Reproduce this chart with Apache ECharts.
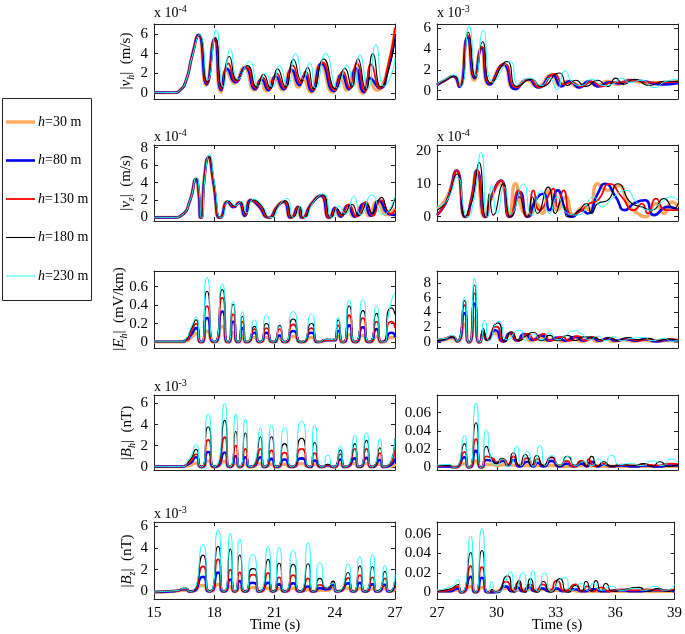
<!DOCTYPE html>
<html><head><meta charset="utf-8">
<script src="https://cdn.jsdelivr.net/npm/echarts@6/dist/echarts.min.js"></script>
<style>html,body{margin:0;padding:0;background:#fff}#c{width:685px;height:634px}</style>
</head><body><div id="c"></div>
<script>
// ---------- legend / series names ----------
const seriesNames = ['h=30 m','h=80 m','h=130 m','h=180 m','h=230 m'];
const xTicksLeft = [15,18,21,24,27];
const xTicksRight = [27,30,33,36,39];

// ---------- |v_h| left (x1e-4 m/s) ----------
const vhL30 = [[15,0.05],[16,0.06],[16.3,0.3],[16.6,1.3],[16.9,3.8],[17.2,5.8],[17.6,0.8],[18.0,5.4],[18.33,0.1],[18.6,2.3],[19.0,1.0],[19.5,2.6],[20.0,0.3],[20.3,1.3],[20.6,0.2],[21.0,1.6],[21.4,0.3],[21.8,2.3],[22.2,0.6],[22.4,1.6],[22.8,0.1],[23.3,2.9],[23.9,0.1],[24.3,1.8],[24.6,0.3],[25.0,2.3],[25.4,0.0],[25.7,1.6],[26.1,0.3],[26.3,0.5],[26.65,2.6],[27,6.5]];
const vhL80 = [[15,0.05],[16,0.06],[16.3,0.3],[16.6,1.3],[16.9,3.8],[17.22,5.9],[17.62,0.9],[18.02,5.5],[18.35,0.3],[18.65,2.45],[19.05,1.1],[19.55,2.6],[20.05,0.4],[20.35,1.4],[20.7,0.3],[21.05,1.7],[21.45,0.4],[21.85,2.35],[22.25,0.8],[22.5,1.8],[22.85,0.2],[23.35,3.0],[23.95,0.2],[24.35,1.9],[24.7,0.4],[25.05,2.5],[25.45,0.1],[25.75,1.5],[26.25,0.5],[26.65,2.4],[27,6.0]];
const vhL130 = [[15,0.05],[16,0.06],[16.3,0.3],[16.6,1.3],[16.9,3.8],[17.24,5.9],[17.64,1.0],[18.04,5.6],[18.37,0.4],[18.7,3.0],[19.1,1.2],[19.6,2.6],[20.08,0.5],[20.4,1.6],[20.75,0.4],[21.1,2.0],[21.5,0.5],[21.9,2.8],[22.3,1.0],[22.55,2.2],[22.9,0.3],[23.4,3.1],[24.0,0.3],[24.4,2.2],[24.75,0.5],[25.1,3.0],[25.5,0.2],[25.8,2.9],[26.25,0.5],[26.65,2.8],[27,6.6]];
const vhL180 = [[15,0.05],[16,0.06],[16.3,0.3],[16.6,1.3],[16.9,3.8],[17.26,5.9],[17.66,1.1],[18.06,5.6],[18.4,0.5],[18.75,3.7],[19.15,1.3],[19.65,2.8],[20.12,0.6],[20.45,1.9],[20.8,0.5],[21.15,2.45],[21.55,0.6],[21.95,3.4],[22.35,1.2],[22.65,2.6],[22.95,0.4],[23.45,3.45],[24.05,0.4],[24.5,2.5],[24.85,0.6],[25.15,3.5],[25.55,0.3],[25.9,4.0],[26.3,0.6],[26.7,2.5],[27,5.5]];
const vhL230 = [[15,0.05],[16,0.06],[16.3,0.3],[16.6,1.3],[16.9,3.7],[17.28,5.9],[17.68,1.3],[18.1,6.4],[18.45,0.6],[18.8,4.4],[19.2,1.4],[19.75,3.2],[20.2,0.7],[20.55,2.0],[20.9,0.6],[21.25,2.8],[21.65,0.7],[22.05,4.0],[22.45,1.4],[22.75,3.1],[23.05,0.5],[23.55,4.0],[24.15,0.5],[24.6,2.8],[24.95,0.7],[25.25,3.9],[25.65,0.4],[26.05,4.9],[26.45,0.7],[26.75,1.5],[27,3.5]];

// ---------- |v_h| right (x1e-3 m/s) ----------
const vhR30 = [[27,0.6],[27.4,1.0],[27.8,1.4],[28.1,0.4],[28.5,5.0],[28.85,1.0],[29.2,4.0],[29.6,0.6],[30.3,2.5],[30.85,0.2],[31.5,1.0],[32.0,0.4],[32.7,1.5],[33.1,0.5],[33.5,0.9],[34.0,0.4],[34.5,0.8],[35.0,0.5],[35.5,0.9],[36.0,0.6],[36.5,1.0],[37.2,0.8],[38.0,0.7],[39,0.8]];
const vhR80 = [[27,0.55],[27.4,1.0],[27.82,1.4],[28.12,0.35],[28.52,5.1],[28.87,1.2],[29.22,4.1],[29.63,0.6],[30.32,2.5],[30.9,0.15],[31.55,1.1],[32.05,0.3],[32.75,1.5],[33.2,0.4],[33.6,0.9],[34.1,0.3],[34.55,0.9],[35.05,0.4],[35.55,0.8],[36.1,0.7],[36.6,1.0],[37.3,0.9],[38.1,0.6],[39,0.75]];
const vhR130 = [[27,0.6],[27.4,1.0],[27.84,1.4],[28.14,0.4],[28.54,5.3],[28.89,1.3],[29.24,4.2],[29.66,0.7],[30.36,2.6],[30.95,0.3],[31.6,1.1],[32.1,0.3],[32.85,1.6],[33.3,0.6],[33.7,0.8],[34.2,0.4],[34.7,0.9],[35.2,0.4],[35.7,0.8],[36.2,0.8],[36.7,1.0],[37.4,0.8],[38.2,0.8],[39,0.9]];
const vhR180 = [[27,0.65],[27.4,1.0],[27.86,1.4],[28.16,0.4],[28.56,5.6],[28.92,1.3],[29.27,4.7],[29.7,0.7],[30.48,2.8],[31.0,0.4],[31.7,1.1],[32.2,0.4],[33.1,1.7],[33.5,0.5],[33.9,1.0],[34.4,0.4],[35.0,1.0],[35.5,0.4],[35.9,1.2],[36.3,0.6],[36.8,1.1],[37.6,0.5],[38.3,0.9],[39,0.9]];
const vhR230 = [[27,0.6],[27.4,1.1],[27.88,1.5],[28.18,0.35],[28.6,6.2],[28.95,1.4],[29.3,5.8],[29.8,0.8],[30.64,2.8],[31.05,0.6],[31.6,1.2],[32.2,0.5],[32.6,1.2],[32.97,0.1],[33.37,1.9],[33.8,0.7],[34.2,0.5],[34.7,1.1],[35.3,0.5],[35.7,0.6],[36.2,1.2],[36.6,0.8],[37.2,1.0],[37.8,0.3],[38.4,0.9],[39,1.1]];

// ---------- |v_z| left (x1e-4 m/s) ----------
const vzL30 = [[15,0.02],[16,0.02],[16.4,0.3],[16.8,2.0],[17.08,4.4],[17.22,2.8],[17.33,0],[17.5,4.5],[17.7,6.8],[17.95,4.0],[18.25,0],[18.65,1.8],[18.95,1.2],[19.22,1.7],[19.5,0.2],[19.8,2.0],[20.2,1.3],[20.7,0],[21.1,1.2],[21.45,1.8],[21.8,0],[22.15,1.2],[22.35,0],[22.8,1.5],[23.3,2.5],[23.7,0],[24.0,1.0],[24.25,0.1],[24.6,1.3],[24.95,0.1],[25.4,1.5],[25.7,0.2],[26.1,1.8],[26.6,0.3],[27,1.0]];
const vzL80 = [[15,0.02],[16,0.02],[16.4,0.3],[16.8,2.0],[17.09,4.4],[17.23,2.8],[17.34,0],[17.51,4.5],[17.71,6.9],[17.96,4.0],[18.27,0],[18.67,1.8],[18.97,1.2],[19.24,1.7],[19.52,0.2],[19.83,2.0],[20.22,1.3],[20.72,0],[21.12,1.2],[21.47,1.8],[21.82,0],[22.17,1.2],[22.37,0],[22.82,1.5],[23.32,2.5],[23.72,0],[24.02,1.1],[24.3,0.1],[24.65,1.4],[25.0,0.1],[25.45,1.6],[25.8,0.2],[26.2,1.9],[26.7,0.4],[27,0.3]];
const vzL130 = [[15,0.02],[16,0.02],[16.4,0.3],[16.8,2.0],[17.1,4.4],[17.24,2.8],[17.35,0],[17.52,4.6],[17.72,6.9],[17.97,4.0],[18.29,0],[18.7,1.85],[19.0,1.25],[19.27,1.75],[19.55,0.3],[19.86,2.0],[20.25,1.4],[20.75,0],[21.15,1.3],[21.5,1.85],[21.85,0],[22.2,1.2],[22.4,0],[22.85,1.6],[23.35,2.55],[23.75,0],[24.05,1.1],[24.35,0.2],[24.7,1.5],[25.1,0.1],[25.55,1.8],[25.9,0.2],[26.3,2.0],[26.8,0.4],[27,0.9]];
const vzL180 = [[15,0.02],[16,0.02],[16.4,0.3],[16.8,2.0],[17.11,4.4],[17.25,2.8],[17.36,0],[17.53,4.7],[17.74,7.0],[17.99,4.0],[18.31,0],[18.73,1.9],[19.03,1.3],[19.3,1.8],[19.58,0.4],[19.9,2.05],[20.3,1.5],[20.8,0],[21.2,1.4],[21.55,1.9],[21.9,0],[22.25,1.25],[22.45,0],[22.9,1.7],[23.4,2.6],[23.8,0],[24.1,1.0],[24.4,0.3],[24.85,1.5],[25.2,0.2],[25.6,1.5],[25.85,0.5],[26.33,2.3],[26.66,0.7],[27,2.3]];
const vzL230 = [[15,0.02],[16,0.02],[16.4,0.3],[16.8,2.0],[17.12,4.6],[17.26,2.8],[17.37,0],[17.55,4.8],[17.76,7.2],[18.01,4.0],[18.33,0],[18.76,1.95],[19.06,1.35],[19.33,1.85],[19.62,0.5],[19.95,2.1],[20.35,1.5],[20.85,0],[21.3,1.6],[21.62,2.2],[21.95,0],[22.3,1.3],[22.5,0],[22.95,1.8],[23.45,2.7],[23.85,0],[24.2,1.3],[24.55,0.4],[24.95,2.4],[25.3,0.3],[25.85,2.6],[26.4,0.3],[27,2.4]];

// ---------- |v_z| right (x1e-4 m/s) ----------
const vzR30 = [[27,2.5],[27.5,6],[27.97,14],[28.4,0],[28.7,5],[28.97,14],[29.35,0],[29.6,4],[30.15,10],[30.6,0.5],[30.9,10],[31.35,1],[31.65,0.5],[31.95,4],[32.25,1],[32.6,8],[33.0,2],[33.4,6],[33.8,0.5],[34.3,3],[34.6,2],[35.0,10],[35.5,8],[36.0,9.5],[36.6,3],[37.0,1],[37.4,0],[37.9,4],[38.3,1],[38.7,4.5],[39,3]];
const vzR80 = [[27,0.5],[27.5,5],[27.98,14],[28.4,0],[28.7,5],[29.0,14],[29.4,0],[29.7,6],[30.19,11],[30.6,0],[31.13,7.5],[31.5,0],[31.9,5],[32.3,7],[32.6,2],[33.0,8],[33.4,2],[33.7,0],[34.2,2],[34.5,1],[35.0,7],[35.37,10],[35.9,6],[36.36,2],[36.8,4],[37.36,5],[37.8,0.5],[38.5,3],[39,2]];
const vzR130 = [[27,0.5],[27.5,5],[27.98,14],[28.4,0],[28.7,5],[29.0,14],[29.4,0],[29.7,6],[30.19,11],[30.6,0],[31.05,8],[31.5,0],[31.8,8],[32.1,2],[32.8,8.5],[33.0,3],[33.3,8],[33.7,0.5],[34.2,2],[34.6,4],[35.0,5],[35.6,10],[36.2,6],[36.8,2],[37.2,4],[37.5,1],[37.9,5.5],[38.4,2],[39,2]];
const vzR180 = [[27,2],[27.5,5],[28.0,13],[28.4,0],[28.56,2],[28.8,6],[29.1,16.5],[29.45,0],[29.6,7],[29.8,0.5],[30.3,10],[30.65,0],[31.1,6],[31.5,0],[31.75,6],[32.0,1],[32.54,9],[32.9,1],[33.2,5],[33.5,0],[34.0,1.5],[34.45,4],[34.7,1],[35.0,4],[35.5,5],[36.0,10],[36.7,4],[37.2,3],[37.7,2],[38.3,5.5],[38.8,2.5],[39,4]];
const vzR230 = [[27,3],[27.5,5],[28.0,12],[28.35,2],[28.5,0],[28.8,4],[29.2,19.5],[29.5,0],[29.72,9.5],[30.0,1],[30.35,9],[30.7,1],[31.3,10],[31.7,0.5],[32.2,8],[32.6,1],[33.0,6],[33.5,1],[34.0,0.5],[34.8,6],[35.2,3],[35.8,6],[36.4,8],[37.0,4],[37.6,2],[38.1,4],[38.7,6],[39,5]];

// ---------- |E_h| left (mV/km), shared times ----------
const ehL_t   = [15,16.3,16.6,16.85,17.1,17.36,17.64,18.0,18.4,18.69,18.94,19.19,19.4,19.6,20.0,20.27,20.6,20.93,21.26,21.5,21.93,22.34,22.84,23.17,23.6,24.0,24.17,24.42,24.72,25.0,25.4,25.7,26.08,26.33,26.83,27];
const ehL30  = [0.002,0.002,0.01,0.05,0.09,0,0.12,0,0.17,0,0.10,0,0.07,0,0.05,0,0.05,0,0.04,0,0.06,0,0.05,0,0.02,0.02,0.06,0,0.08,0,0.07,0,0.06,0,0.05,0.04];
const ehL80  = [0.002,0.002,0.02,0.08,0.15,0,0.26,0,0.33,0,0.22,0,0.15,0,0.10,0,0.10,0,0.07,0,0.12,0,0.10,0,0.02,0.02,0.12,0,0.18,0,0.16,0,0.14,0,0.10,0.05];
const ehL130 = [0.002,0.002,0.02,0.11,0.20,0,0.39,0,0.48,0,0.30,0,0.22,0,0.14,0,0.15,0,0.14,0,0.19,0,0.15,0,0.02,0.02,0.18,0,0.29,0,0.26,0,0.22,0,0.22,0.15];
const ehL180 = [0.002,0.002,0.03,0.14,0.24,0,0.55,0,0.57,0,0.41,0,0.28,0,0.17,0,0.20,0,0.18,0,0.25,0,0.20,0,0.03,0.02,0.24,0,0.39,0,0.34,0,0.31,0,0.37,0.30];
const ehL230 = [0.002,0.002,0.04,0.16,0.27,0,0.70,0,0.63,0,0.44,0,0.33,0,0.24,0,0.29,0,0.17,0,0.33,0,0.30,0,0.03,0.02,0.27,0,0.45,0,0.46,0,0.39,0,0.45,0.53];

// ---------- |E_h| right (mV/km) ----------
const ehR30 = [[27,0.2],[27.4,0.3],[27.75,0.5],[28.0,0.1],[28.37,2.4],[28.6,0],[28.87,3.2],[29.1,0],[29.3,1.1],[29.5,0.3],[29.85,1.2],[30.3,0.1],[30.6,1.0],[31.0,0.2],[31.3,0.9],[31.7,0.2],[32.1,0.7],[32.5,0.2],[32.9,0.5],[33.3,0.1],[33.8,0.6],[34.2,0.1],[34.6,0.5],[35.0,0.1],[35.4,0.4],[35.8,0.1],[36.3,0.3],[36.8,0.1],[37.3,0.3],[37.8,0.1],[38.4,0.2],[39,0.1]];
const ehR80 = [[27,0.2],[27.4,0.4],[27.75,0.7],[28.0,0.1],[28.37,3.9],[28.6,0],[28.87,5.2],[29.1,0],[29.3,1.3],[29.5,0.3],[29.9,1.6],[30.3,0.1],[30.65,1.2],[31.0,0.2],[31.35,1.1],[31.8,0.3],[32.2,0.9],[32.6,0.2],[33.0,0.6],[33.4,0.2],[33.9,0.7],[34.3,0.2],[34.7,0.6],[35.1,0.2],[35.5,0.5],[35.9,0.2],[36.4,0.4],[36.9,0.2],[37.4,0.4],[37.9,0.1],[38.5,0.3],[39,0.2]];
const ehR130 = [[27,0.3],[27.4,0.5],[27.75,0.8],[28.0,0.1],[28.37,5.0],[28.6,0],[28.87,6.6],[29.1,0],[29.3,1.4],[29.5,0.3],[29.95,2.1],[30.35,0.1],[30.7,1.3],[31.05,0.2],[31.5,1.1],[31.9,0.3],[32.3,1.1],[32.7,0.2],[33.2,0.7],[33.6,0.2],[34.0,0.8],[34.4,0.2],[34.8,0.7],[35.2,0.2],[35.6,0.6],[36.0,0.2],[36.5,0.5],[37.0,0.2],[37.5,0.4],[38.0,0.2],[38.6,0.4],[39,0.3]];
const ehR180 = [[27,0.2],[27.4,0.4],[27.75,0.7],[28.0,0.1],[28.37,5.6],[28.6,0],[28.87,7.7],[29.1,0],[29.3,1.8],[29.5,0.3],[30.02,2.6],[30.4,0.1],[30.7,1.4],[31.1,0.2],[31.4,0.8],[31.8,1.3],[32.2,0.2],[32.6,0.9],[33.0,0.2],[33.5,0.9],[33.9,0.2],[34.3,0.7],[34.8,0.6],[35.2,0.3],[35.6,0.6],[36.0,0.2],[36.5,0.6],[37.0,0.3],[37.5,0.5],[38.0,0.2],[38.5,0.4],[39,0.2]];
const ehR230 = [[27,0.4],[27.4,0.5],[27.75,0.9],[28.0,0.1],[28.37,6.0],[28.6,0],[28.87,8.6],[29.1,0],[29.37,2.9],[29.6,0.2],[30.08,2.8],[30.5,0.3],[31.1,1.6],[31.45,0.2],[31.8,1.0],[32.2,0.3],[32.6,1.2],[33.0,0.3],[33.4,0.9],[33.8,1.5],[34.2,1.1],[34.6,0.3],[35.0,0.8],[35.4,0.2],[35.8,0.7],[36.2,0.2],[36.7,0.5],[37.3,0.6],[37.7,0.2],[38.3,0.5],[38.7,0.1],[39,0.3]];

// ---------- |B_h| left (x1e-3 nT), shared times ----------
const bhL_t   = [15,16.3,16.7,17.1,17.36,17.7,18.0,18.52,18.77,19.07,19.27,19.55,19.77,20.3,20.5,20.85,21.1,21.5,21.85,22.35,22.76,23.0,23.35,23.65,23.95,24.28,24.5,25.0,25.22,25.58,25.83,26.25,26.45,27];
const bhL30  = [0.02,0.02,0.10,0.35,0,0.55,0,0.50,0,0.35,0,0.30,0,0.30,0,0.25,0,0.25,0,0.30,0,0.25,0,0.10,0,0.25,0,0.30,0,0.30,0,0.25,0,0.30];
const bhL80  = [0.02,0.02,0.25,0.90,0,1.40,0,1.35,0,1.00,0,0.90,0,0.90,0,0.75,0,0.70,0,0.80,0,0.60,0,0.15,0,0.70,0,0.80,0,0.85,0,0.65,0,0.80];
const bhL130 = [0.02,0.02,0.35,1.20,0,2.55,0,2.80,0,2.00,0,1.70,0,1.70,0,1.55,0,1.35,0,1.70,0,1.30,0,0.20,0,1.20,0,1.70,0,1.70,0,1.30,0,1.70];
const bhL180 = [0.02,0.02,0.45,1.65,0,3.80,0,4.40,0,3.35,0,3.20,0,2.85,0,2.85,0,2.20,0,2.70,0,2.30,0,0.25,0,1.60,0,2.20,0,2.50,0,1.80,0,2.70];
const bhL230 = [0.02,0.02,0.60,2.10,0,5.00,0,6.00,0,5.00,0,4.50,0,3.70,0,3.90,0,3.70,0,4.30,0,3.95,0,1.10,0,2.00,0,3.00,0,3.20,0,2.65,0,2.70];

// ---------- |B_h| right (nT) ----------
const bhR30 = [[27,0.001],[27.6,0.001],[27.88,0],[28.37,0.004],[28.6,0],[28.94,0.007],[29.2,0],[29.45,0.003],[29.75,0.003],[30.0,0.002],[30.5,0.003],[31.0,0.002],[31.5,0.002],[32.0,0.002],[32.7,0.002],[33.5,0.001],[34.5,0.002],[35.5,0.001],[36.5,0.001],[37.5,0.001],[38.5,0.001],[39,0.001]];
const bhR80 = [[27,0.001],[27.6,0.001],[27.88,0],[28.37,0.011],[28.6,0],[28.94,0.018],[29.2,0],[29.45,0.008],[29.75,0.007],[30.0,0.005],[30.3,0.007],[30.55,0.002],[30.8,0.008],[31.1,0.001],[31.5,0.006],[31.8,0.001],[32.0,0.005],[32.3,0.001],[32.7,0.007],[33.1,0.001],[33.45,0.004],[33.8,0.001],[34.2,0.004],[34.45,0.001],[34.7,0.006],[35.0,0.001],[35.3,0.003],[35.7,0.001],[36.2,0.002],[36.8,0.001],[37.4,0.002],[38.0,0.001],[38.6,0.002],[39,0.002]];
const bhR130 = [[27,0.001],[27.6,0.002],[27.88,0],[28.37,0.017],[28.6,0],[28.94,0.031],[29.2,0],[29.45,0.012],[29.75,0.010],[30.0,0.006],[30.3,0.009],[30.55,0.003],[30.8,0.012],[31.1,0.002],[31.5,0.010],[31.8,0.002],[32.0,0.009],[32.3,0.002],[32.7,0.011],[33.1,0.002],[33.45,0.007],[33.8,0.001],[34.2,0.007],[34.45,0.001],[34.55,0.009],[34.9,0.001],[35.3,0.004],[35.7,0.001],[36.2,0.003],[36.8,0.002],[37.4,0.003],[38.0,0.002],[38.6,0.004],[39,0.003]];
const bhR180 = [[27,0.002],[27.6,0.002],[27.88,0],[28.37,0.026],[28.6,0],[28.94,0.049],[29.2,0],[29.45,0.023],[29.75,0.008],[29.95,0.004],[30.23,0.010],[30.5,0.002],[30.8,0.016],[31.1,0.002],[31.4,0.014],[31.7,0.002],[31.97,0.013],[32.3,0.002],[32.7,0.011],[33.1,0.001],[33.5,0.012],[33.9,0.002],[34.2,0.006],[34.45,0.001],[34.7,0.012],[35.0,0.001],[35.3,0.006],[35.7,0.001],[36.2,0.003],[36.8,0.002],[37.3,0.004],[37.7,0.001],[38.1,0.006],[38.5,0.001],[39,0.003]];
const bhR230 = [[27,0.002],[27.6,0.003],[27.88,0],[28.37,0.035],[28.6,0],[28.94,0.071],[29.2,0],[29.45,0.041],[29.75,0.005],[29.95,0.002],[30.25,0.009],[30.55,0.001],[30.97,0.023],[31.2,0.002],[31.5,0.017],[31.8,0.001],[32.13,0.024],[32.4,0.002],[32.75,0.013],[33.1,0.002],[33.55,0.012],[33.9,0.002],[34.3,0.006],[34.7,0.002],[35.05,0.009],[35.3,0.002],[35.7,0.013],[36.1,0.003],[36.6,0.004],[37.2,0.002],[37.76,0.007],[38.2,0.002],[38.67,0.009],[39,0.005]];

// ---------- |B_z| left (x1e-3 nT), shared times ----------
const bzL_t   = [15,16.0,16.6,16.8,17.44,17.77,18.19,18.47,18.8,19.02,19.27,19.52,19.9,20.05,20.23,20.68,20.93,21.23,21.51,21.93,22.26,22.67,22.92,23.26,23.6,23.92,24.12,24.67,24.92,25.25,25.5,25.88,26.11,26.5,26.71,27];
const bzL30  = [-0.05,0.02,0.10,0,0.55,0,0.65,0,0.45,0,0.40,0,0.35,0.33,0,0.30,0,0.25,0,0.30,0,0.15,0,0.10,0.10,0.25,0,0.30,0,0.30,0,0.25,0,0.25,0,0.30];
const bzL80  = [-0.05,0.03,0.20,0,1.35,0,1.75,0,1.10,0,0.95,0,0.80,0.75,0,0.80,0,0.65,0,0.75,0,0.45,0,0.30,0.20,0.60,0,0.75,0,0.80,0,0.65,0,0.60,0,0.90];
const bzL130 = [-0.05,0.04,0.25,0,2.30,0,2.95,0,2.00,0,1.75,0,1.55,1.50,0,1.70,0,1.30,0,1.50,0,1.20,0,0.60,0.30,0.90,0,1.25,0,1.50,0,1.30,0,1.20,0,0.80];
const bzL180 = [-0.05,0.05,0.30,0,3.35,0,4.15,0,3.90,0,3.35,0,2.10,2.05,0,2.95,0,2.60,0,2.50,0,2.55,0,1.20,0.30,0.95,0,1.75,0,2.35,0,2.30,0,1.85,0,0.90];
const bzL230 = [-0.05,0.05,0.30,0,4.30,0,5.70,0,5.35,0,4.85,0,3.40,3.20,0,4.10,0,4.05,0,3.80,0,4.50,0,2.65,0.30,0.80,0,2.55,0,3.20,0,3.40,0,2.40,0,1.60];

// ---------- |B_z| right (nT) ----------
const bzR30 = [[27,0.001],[27.6,0.001],[28.07,0.002],[28.24,0],[28.7,0.006],[28.94,0],[29.27,0.005],[29.57,0],[30.0,0.001],[30.5,0.004],[31.0,0.002],[31.5,0.003],[32.0,0.002],[32.5,0.003],[33.0,0.002],[33.5,0.002],[34.5,0.001],[35.5,0.001],[36.5,0.001],[37.5,0.001],[38.5,0.001],[39,0.001]];
const bzR80 = [[27,0.001],[27.6,0.001],[28.07,0.004],[28.24,0],[28.7,0.016],[28.94,0],[29.27,0.015],[29.57,0],[29.98,0],[30.45,0.006],[30.8,0.001],[31.05,0.005],[31.35,0.001],[31.65,0.005],[31.95,0.001],[32.3,0.004],[32.65,0.001],[33.0,0.004],[33.4,0.001],[33.9,0.003],[34.4,0.001],[34.9,0.003],[35.4,0.001],[36.2,0.002],[37.0,0.001],[38.0,0.002],[39,0.001]];
const bzR130 = [[27,0.001],[27.6,0.002],[28.07,0.006],[28.24,0],[28.7,0.027],[28.94,0],[29.27,0.026],[29.57,0],[29.8,0.002],[29.98,0],[30.5,0.011],[30.85,0.001],[31.1,0.010],[31.4,0.001],[31.7,0.008],[32.0,0.001],[32.35,0.008],[32.7,0.001],[33.05,0.012],[33.5,0.001],[34.0,0.008],[34.3,0.001],[34.6,0.006],[34.9,0.001],[35.3,0.005],[35.7,0.001],[36.3,0.003],[37.0,0.002],[37.6,0.003],[38.3,0.002],[39,0.003]];
const bzR180 = [[27,0.001],[27.6,0.003],[28.07,0.008],[28.24,0],[28.7,0.041],[28.94,0],[29.27,0.043],[29.57,0],[29.8,0.003],[29.98,0],[30.56,0.017],[30.9,0],[31.14,0.012],[31.45,0],[31.72,0.014],[32.05,0],[32.38,0.011],[32.75,0],[33.2,0.014],[33.6,0],[34.0,0.007],[34.3,0.001],[34.53,0.011],[34.8,0.001],[35.03,0.012],[35.3,0.001],[35.53,0.009],[35.9,0.001],[36.5,0.003],[37.2,0.005],[37.6,0.001],[38.2,0.004],[38.6,0.001],[39,0.003]];
const bzR230 = [[27,0.002],[27.6,0.005],[28.07,0.013],[28.24,0],[28.7,0.058],[28.94,0],[29.27,0.066],[29.57,0],[29.76,0.011],[29.98,0],[30.72,0.021],[30.95,0.001],[31.35,0.020],[31.6,0.001],[31.85,0.022],[32.1,0.001],[32.45,0.020],[32.75,0.001],[33.45,0.015],[33.8,0.002],[34.3,0.009],[34.6,0.002],[34.9,0.009],[35.3,0.002],[35.8,0.006],[36.3,0.002],[37.0,0.004],[37.5,0.002],[38.0,0.006],[38.5,0.002],[39,0.008]];

// ---------- tick labels ----------
const yTicks_vhL = [0,2,4,6], yTicks_vhR = [0,2,4,6];
const yTicks_vzL = [0,2,4,6,8], yTicks_vzR = [0,10,20];
const yTicks_ehL = [0,0.2,0.4,0.6], yTicks_ehR = [0,2,4,6,8];
const yTicks_bhL = [0,2,4,6], yTicks_bhR = [0,0.02,0.04,0.06];
const yTicks_bzL = [0,2,4,6], yTicks_bzR = [0,0.02,0.04,0.06];

// ---------- build ----------
const zip = (t, v) => t.map((x, i) => [x, v[i]]);
// a zero of |signal| is drawn as a cusp: the touch point is split in two very close points
const cusp = d => { const o = []; d.forEach(p => { if (p[1] === 0) { o.push([p[0] - 0.025, 0], [p[0] + 0.025, 0]); } else o.push(p); }); return o; };
const FONT = 'Liberation Serif';
const colors = ['#FFAA5C', '#0000FF', '#FF0000', '#000000', '#22FFFF'];
const widths = [3.4, 2.6, 1.8, 1.1, 1.0];
const rowTop = [24, 145, 271, 395, 522];
const rowH = [75, 76, 77, 75, 77];
const colLeft = [154, 437];
const colW = 241;

const panels = [
  {r:0,c:0,sm:0.6,min:-0.6,max:7.0,ticks:yTicks_vhL,data:[vhL30,vhL80,vhL130,vhL180,vhL230]},
  {r:0,c:1,sm:0.6,min:-0.8,max:6.4,ticks:yTicks_vhR,data:[vhR30,vhR80,vhR130,vhR180,vhR230]},
  {r:1,c:0,sm:0.6,min:-0.4,max:8.3,ticks:yTicks_vzL,data:[vzL30,vzL80,vzL130,vzL180,vzL230]},
  {r:1,c:1,sm:0.6,min:-1.3,max:21.8,ticks:yTicks_vzR,data:[vzR30,vzR80,vzR130,vzR180,vzR230]},
  {r:2,c:0,sm:0.9,min:-0.065,max:0.77,ticks:yTicks_ehL,data:[ehL30,ehL80,ehL130,ehL180,ehL230].map(v=>zip(ehL_t,v))},
  {r:2,c:1,sm:0.8,min:-0.8,max:9.6,ticks:yTicks_ehR,data:[ehR30,ehR80,ehR130,ehR180,ehR230]},
  {r:3,c:0,sm:0.9,min:-0.3,max:6.8,ticks:yTicks_bhL,data:[bhL30,bhL80,bhL130,bhL180,bhL230].map(v=>zip(bhL_t,v))},
  {r:3,c:1,sm:0.8,min:-0.003,max:0.0795,ticks:yTicks_bhR,data:[bhR30,bhR80,bhR130,bhR180,bhR230]},
  {r:4,c:0,sm:0.9,min:-0.7,max:6.4,ticks:yTicks_bzL,data:[bzL30,bzL80,bzL130,bzL180,bzL230].map(v=>zip(bzL_t,v))},
  {r:4,c:1,sm:0.8,min:-0.007,max:0.0725,ticks:yTicks_bzR,data:[bzR30,bzR80,bzR130,bzR180,bzR230]}
];

const grid = [], xAxis = [], yAxis = [], series = [];
const axisCol = '#222';
panels.forEach((p, i) => {
  grid.push({left: colLeft[p.c], top: rowTop[p.r], width: colW, height: rowH[p.r]});
  const xt = p.c === 0 ? xTicksLeft : xTicksRight;
  const xbase = {type:'value', gridIndex:i, min:xt[0], max:xt[xt.length-1], interval:3, splitLine:{show:false},
    axisLine:{show:true, onZero:false, lineStyle:{color:axisCol, width:1}},
    axisTick:{show:true, inside:true, length:4, lineStyle:{color:axisCol}}};
  xAxis.push(Object.assign({}, xbase, {position:'bottom',
    axisLabel:{show: p.r === 4, fontFamily:FONT, fontSize:15, color:'#000', margin:7}}));
  xAxis.push(Object.assign({}, xbase, {position:'top', axisLabel:{show:false}}));
  const ybase = {type:'value', gridIndex:i, min:p.min, max:p.max, splitLine:{show:false},
    axisLine:{show:true, onZero:false, lineStyle:{color:axisCol, width:1}},
    axisTick:{show:true, inside:true, length:4, customValues:p.ticks, lineStyle:{color:axisCol}}};
  yAxis.push(Object.assign({}, ybase, {position:'left',
    axisLabel:{show:true, customValues:p.ticks, fontFamily:FONT, fontSize:15, color:'#000', margin:6}}));
  yAxis.push(Object.assign({}, ybase, {position:'right', axisLabel:{show:false}}));
  p.data.forEach((d, k) => {
    series.push({type:'line', name:seriesNames[k], xAxisIndex:2*i, yAxisIndex:2*i, data:cusp(d),
      smooth:p.sm, symbol:'none', showSymbol:false, animation:false,
      lineStyle:{color:colors[k], width:widths[k]}, itemStyle:{color:colors[k]}, z:2+k});
  });
});

const sup = {fontSize:10, fontFamily:FONT, verticalAlign:'top', lineHeight:18, fill:'#000'};
const graphic = [];
// exponent labels
[[154,13,'-4'],[437,13,'-3'],[154,137,'-4'],[437,137,'-4'],[154,387,'-3'],[154,514,'-3']].forEach(e => {
  graphic.push({type:'text', x:e[0], y:e[1], style:{text:'x 10{s|' + e[2] + '}', font:'14px ' + FONT, fill:'#000',
    align:'left', textAlign:'left', verticalAlign:'middle', textVerticalAlign:'middle', lineHeight:18,
    rich:{s:sup}}});
});
// y axis titles (left column)
const ylab = [
  ['|{i|v}{b|h}|  (m/s)', 126, 61],
  ['|{i|v}{b|z}|  (m/s)', 126, 183],
  ['|{i|E}{b|h}|  (mV/km)', 119, 309],
  ['|{i|B}{b|h}|  (nT)', 127, 433],
  ['|{i|B}{b|z}|  (nT)', 127, 561]
];
ylab.forEach(l => {
  graphic.push({type:'text', x:l[1], y:l[2], rotation:Math.PI/2, style:{text:l[0], font:'15px ' + FONT, fill:'#000',
    align:'center', textAlign:'center', verticalAlign:'middle', textVerticalAlign:'middle', lineHeight:20,
    rich:{i:{fontStyle:'italic', fontSize:15, fontFamily:FONT, lineHeight:20, fill:'#000'},
          b:{fontStyle:'italic', fontSize:10, fontFamily:FONT, verticalAlign:'bottom', lineHeight:20, fill:'#000'}}}});
});
// x axis titles
[[275, 625],[557, 625]].forEach(p => {
  graphic.push({type:'text', x:p[0], y:p[1], style:{text:'Time (s)', font:'15px ' + FONT, fill:'#000',
    align:'center', textAlign:'center', verticalAlign:'middle', textVerticalAlign:'middle'}});
});
// legend (box, line samples, labels)
graphic.push({type:'rect', shape:{x:2.5, y:98.5, width:89, height:202}, style:{fill:'none', stroke:'#222', lineWidth:1}});
const legendY = [122, 160.5, 199, 237.5, 276];
seriesNames.forEach((n, k) => {
  graphic.push({type:'line', shape:{x1:6, y1:legendY[k], x2:35, y2:legendY[k]}, style:{stroke:colors[k], lineWidth:widths[k]}});
  graphic.push({type:'text', x:38, y:legendY[k], style:{text:'{i|h}' + n.slice(1), font:'14px ' + FONT, fill:'#000',
    align:'left', textAlign:'left', verticalAlign:'middle', textVerticalAlign:'middle',
    rich:{i:{fontStyle:'italic', fontSize:14, fontFamily:FONT, fill:'#000'}}}});
});

const option = {
  animation:false,
  backgroundColor:'#fff',
  grid, xAxis, yAxis, series, graphic
};
const chart = echarts.init(document.getElementById('c'), null, {renderer:'canvas'});
chart.setOption(option);
</script></body></html>
